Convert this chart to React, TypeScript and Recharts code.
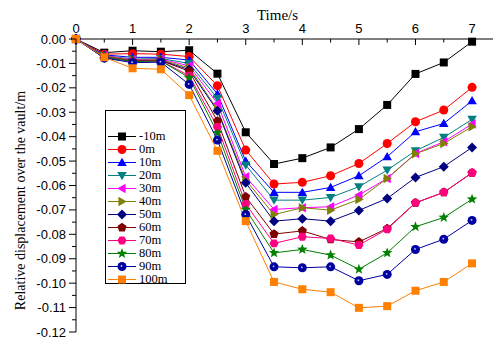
import React from "react";
import { LineChart, Line, XAxis, YAxis, Legend } from "recharts";

const times = [0, 0.5, 1, 1.5, 2, 2.5, 3, 3.5, 4, 4.5, 5, 5.5, 6, 6.5, 7];

const depthM10 = [0, -0.0056, -0.0048, -0.0052, -0.0046, -0.0142, -0.0382, -0.0512, -0.0488, -0.0444, -0.0369, -0.027, -0.0143, -0.0096, -0.0011];
const depth0 = [0, -0.0062, -0.006, -0.0062, -0.0072, -0.0191, -0.0455, -0.0594, -0.0587, -0.056, -0.051, -0.0428, -0.0339, -0.0291, -0.0198];
const depth10 = [0, -0.0065, -0.0075, -0.0075, -0.0086, -0.0225, -0.05, -0.0628, -0.0628, -0.0608, -0.056, -0.0482, -0.038, -0.0346, -0.0253];
const depth20 = [0, -0.0068, -0.0082, -0.008, -0.01, -0.0243, -0.0516, -0.066, -0.066, -0.0649, -0.0605, -0.0537, -0.0458, -0.0403, -0.0329];
const depth30 = [0, -0.0068, -0.0085, -0.0082, -0.011, -0.0264, -0.0564, -0.0698, -0.0691, -0.0687, -0.0639, -0.0571, -0.0469, -0.0421, -0.0348];
const depth40 = [0, -0.007, -0.0087, -0.0085, -0.0118, -0.0288, -0.0578, -0.0719, -0.0691, -0.0701, -0.0657, -0.0571, -0.047, -0.0428, -0.0359];
const depth50 = [0, -0.0078, -0.009, -0.0088, -0.0125, -0.0294, -0.0589, -0.0746, -0.0736, -0.0746, -0.0702, -0.0653, -0.0567, -0.0523, -0.0444];
const depth60 = [0, -0.0072, -0.009, -0.0088, -0.0132, -0.0336, -0.0646, -0.0799, -0.0786, -0.0821, -0.0831, -0.0776, -0.0671, -0.0628, -0.0548];
const depth70 = [0, -0.0072, -0.0092, -0.009, -0.015, -0.036, -0.0676, -0.0837, -0.081, -0.0817, -0.0844, -0.0779, -0.0671, -0.0628, -0.0548];
const depth80 = [0, -0.0072, -0.0093, -0.009, -0.0158, -0.0384, -0.0698, -0.0876, -0.0862, -0.0885, -0.0943, -0.0876, -0.0769, -0.0731, -0.0656];
const depth90 = [0, -0.0078, -0.0097, -0.0095, -0.0186, -0.0414, -0.0719, -0.0933, -0.0937, -0.0933, -0.099, -0.0964, -0.0862, -0.082, -0.0743];
const depth100 = [0, -0.0075, -0.012, -0.0124, -0.023, -0.0458, -0.0746, -0.0995, -0.1025, -0.1037, -0.1101, -0.1094, -0.1031, -0.0995, -0.0919];

const xTicks = [0, 0.5, 1, 1.5, 2, 2.5, 3, 3.5, 4, 4.5, 5, 5.5, 6, 6.5, 7];
const yTicks = [
  0, -0.005, -0.01, -0.015, -0.02, -0.025, -0.03, -0.035, -0.04, -0.045, -0.05, -0.055, -0.06,
  -0.065, -0.07, -0.075, -0.08, -0.085, -0.09, -0.095, -0.1, -0.105, -0.11, -0.115, -0.12,
];

const series = [
  { name: "-10m", values: depthM10, color: "#000000", shape: "square" },
  { name: "0m", values: depth0, color: "#ff0000", shape: "circle" },
  { name: "10m", values: depth10, color: "#0000ff", shape: "up" },
  { name: "20m", values: depth20, color: "#008080", shape: "down" },
  { name: "30m", values: depth30, color: "#ff00ff", shape: "left" },
  { name: "40m", values: depth40, color: "#808000", shape: "right" },
  { name: "50m", values: depth50, color: "#000080", shape: "diamond" },
  { name: "60m", values: depth60, color: "#800000", shape: "pentagon" },
  { name: "70m", values: depth70, color: "#ff0080", shape: "hexagon" },
  { name: "80m", values: depth80, color: "#008000", shape: "star" },
  { name: "90m", values: depth90, color: "#0000a0", shape: "ball" },
  { name: "100m", values: depth100, color: "#ff8000", shape: "square" },
];

const data = times.map((t, i) => {
  const row: Record<string, number> = { t };
  series.forEach((s) => (row[s.name] = s.values[i]));
  return row;
});

const SERIF = "'Liberation Serif', 'Times New Roman', serif";
const SANS = "'Liberation Sans', Arial, sans-serif";

const poly = (cx: number, cy: number, n: number, r: number, rot: number) =>
  Array.from({ length: n }, (_, k) => {
    const a = rot + (k * 2 * Math.PI) / n;
    return `${cx + r * Math.cos(a)},${cy + r * Math.sin(a)}`;
  }).join(" ");

const star = (cx: number, cy: number, r: number) =>
  Array.from({ length: 10 }, (_, k) => {
    const a = -Math.PI / 2 + (k * Math.PI) / 5;
    const rr = k % 2 === 0 ? r : r * 0.42;
    return `${cx + rr * Math.cos(a)},${cy + rr * Math.sin(a)}`;
  }).join(" ");

function Marker({ shape, cx, cy, color }: { shape: string; cx: number; cy: number; color: string }) {
  switch (shape) {
    case "square":
      return <rect x={cx - 4} y={cy - 4} width={8} height={8} fill={color} />;
    case "circle":
      return <circle cx={cx} cy={cy} r={4.5} fill={color} />;
    case "up":
      return <polygon points={poly(cx, cy + 0.8, 3, 5.5, -Math.PI / 2)} fill={color} />;
    case "down":
      return <polygon points={poly(cx, cy - 0.8, 3, 5.5, Math.PI / 2)} fill={color} />;
    case "left":
      return <polygon points={poly(cx + 0.8, cy, 3, 5.5, Math.PI)} fill={color} />;
    case "right":
      return <polygon points={poly(cx - 0.8, cy, 3, 5.5, 0)} fill={color} />;
    case "diamond":
      return <polygon points={poly(cx, cy, 4, 5, 0)} fill={color} />;
    case "pentagon":
      return <polygon points={poly(cx, cy, 5, 4.8, -Math.PI / 2)} fill={color} />;
    case "hexagon":
      return <polygon points={poly(cx, cy, 6, 4.6, 0)} fill={color} />;
    case "star":
      return <polygon points={star(cx, cy, 5.5)} fill={color} />;
    case "ball":
      return (
        <g>
          <circle cx={cx} cy={cy} r={4.5} fill={color} />
          <circle cx={cx - 0.5} cy={cy - 0.5} r={0.9} fill="#c8c8ff" />
        </g>
      );
    default:
      return null;
  }
}

function XTick({ x, y, payload }: any) {
  const major = Number.isInteger(payload.value);
  return (
    <g>
      <line x1={x} x2={x} y1={y} y2={y + (major ? 6 : 3.5)} stroke="#000" />
      {major && (
        <text x={x} y={y - 6} textAnchor="middle" fontSize={13} fontFamily={SANS} fill="#000">
          {payload.value}
        </text>
      )}
    </g>
  );
}

function YTick({ x, y, payload }: any) {
  const v = payload.value as number;
  const major = Math.round(v * 1000) % 10 === 0;
  return (
    <g>
      <line x1={x - (major ? 7 : 4)} x2={x} y1={y} y2={y} stroke="#000" />
      {major && (
        <text x={x - 10} y={y} dy={4.5} textAnchor="end" fontSize={13} fontFamily={SANS} fill="#000">
          {v.toFixed(2)}
        </text>
      )}
    </g>
  );
}

function LegendBox() {
  return (
    <div
      style={{
        border: "1px solid #000",
        background: "#fff",
        width: 81,
        height: 174,
        boxSizing: "border-box",
        paddingTop: 19,
      }}
    >
      {series.map((s) => (
        <div key={s.name} style={{ display: "flex", alignItems: "center", height: 13 }}>
          <svg width={33} height={13} style={{ display: "block" }}>
            <line x1={2} x2={30} y1={6.5} y2={6.5} stroke={s.color} />
            <Marker shape={s.shape} cx={16} cy={6.5} color={s.color} />
          </svg>
          <span style={{ fontFamily: SERIF, fontSize: 12.5, lineHeight: "13px", color: "#000" }}>{s.name}</span>
        </div>
      ))}
    </div>
  );
}

export default function App() {
  return (
    <div style={{ position: "absolute", left: 0, top: 0, background: "#fff" }}>
      <LineChart width={493} height={338} data={data} margin={{ top: 0, right: 0, bottom: 6, left: 0 }}>
        <XAxis
          dataKey="t"
          type="number"
          orientation="top"
          domain={[0, 7.37]}
          ticks={xTicks}
          interval={0}
          height={39}
          tickSize={0}
          tickMargin={0}
          tickLine={false}
          tick={<XTick />}
          axisLine={{ stroke: "#000" }}
          label={{
            content: ({ viewBox }: any) => (
              <text
                x={viewBox.x + viewBox.width / 2 - 7}
                y={viewBox.y + 20}
                textAnchor="middle"
                fontSize={15}
                fontFamily={SERIF}
                fill="#000"
              >
                Time/s
              </text>
            ),
          }}
        />
        <YAxis
          type="number"
          domain={[-0.12, 0]}
          ticks={yTicks}
          interval={0}
          width={76}
          tickSize={0}
          tickMargin={0}
          tickLine={false}
          tick={<YTick />}
          axisLine={{ stroke: "#000" }}
          label={{
            content: ({ viewBox }: any) => (
              <text
                transform={`translate(${viewBox.x + 25}, ${viewBox.y + viewBox.height / 2 + 15}) rotate(-90)`}
                textAnchor="middle"
                fontSize={14}
                fontFamily={SERIF}
                fill="#000"
              >
                Relative displacement over the vault/m
              </text>
            ),
          }}
        />
        <Legend
          layout="vertical"
          align="center"
          verticalAlign="middle"
          content={<LegendBox />}
          wrapperStyle={{ left: 105, top: 110, width: 81, height: 174 }}
        />
        {series.map((s) => (
          <Line
            key={s.name}
            dataKey={s.name}
            name={s.name}
            stroke={s.color}
            strokeWidth={1}
            isAnimationActive={false}
            activeDot={false}
            dot={(p: any) => (
              <Marker key={`${s.name}-${p.index}`} shape={s.shape} cx={p.cx} cy={p.cy} color={s.color} />
            )}
          />
        ))}
      </LineChart>
    </div>
  );
}
